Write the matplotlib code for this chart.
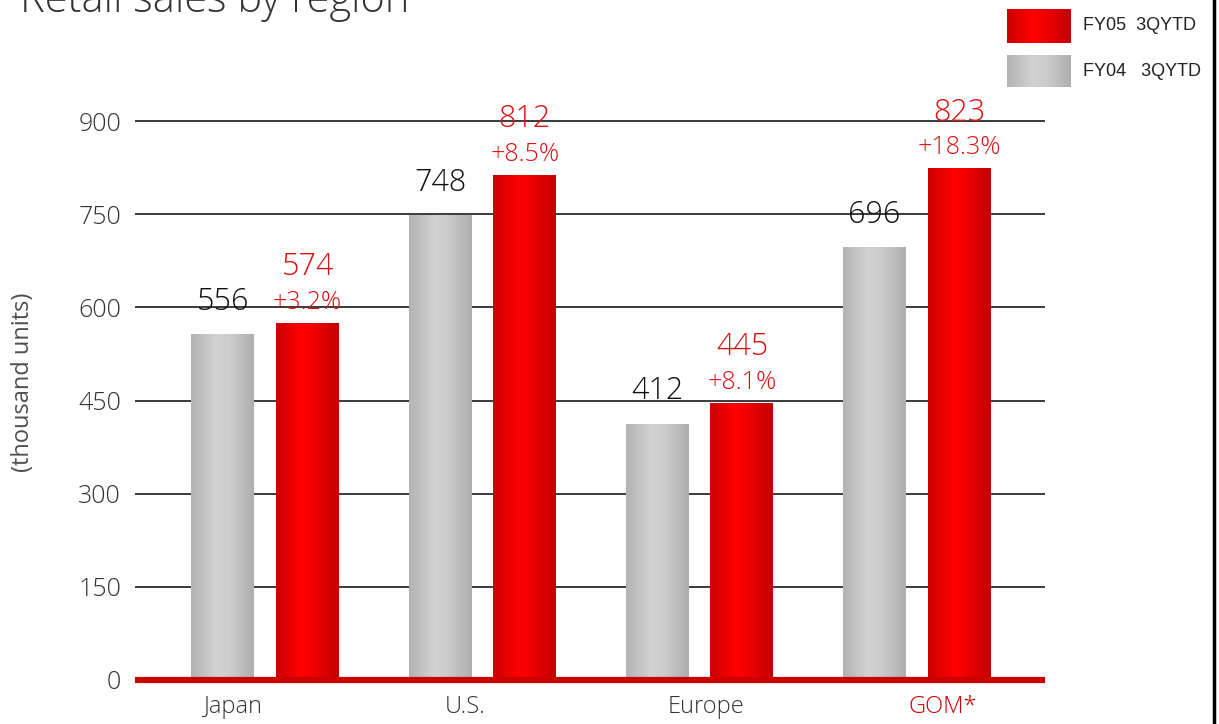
import numpy as np
import matplotlib
matplotlib.use("Agg")
import matplotlib.pyplot as plt
from matplotlib.colors import LinearSegmentedColormap
from matplotlib.lines import Line2D

regions = ["Japan", "U.S.", "Europe", "GOM*"]
fy04 = [556, 748, 412, 696]
fy05 = [574, 812, 445, 823]
growth = ["+3.2%", "+8.5%", "+8.1%", "+18.3%"]
yticks = [0, 150, 300, 450, 600, 750, 900]
legend_labels = ["FY05  3QYTD", "FY04   3QYTD"]

plt.rcParams['font.family'] = ['Open Sans', 'DejaVu Sans']
plt.rcParams['font.weight'] = 'light'

GREY = LinearSegmentedColormap.from_list(
    "grey", [(0, "#b2b2b2"), (0.4, "#d2d2d2"), (0.6, "#cdcdcd"), (1, "#aeaeae")])
RED = LinearSegmentedColormap.from_list(
    "red", [(0, "#cc0000"), (0.4, "#ff0000"), (0.55, "#f60000"), (1, "#c40000")])
grad = np.linspace(0, 1, 256).reshape(1, -1)


def fill_gradient(ax, patch, cmap):
    x, y = patch.get_x(), patch.get_y()
    w, h = patch.get_width(), patch.get_height()
    ax.imshow(grad, cmap=cmap, extent=[x, x + w, y, y + h],
              aspect='auto', zorder=2, interpolation='bilinear')


fig = plt.figure(figsize=(12.19, 7.24), dpi=100)
ax = fig.add_axes([0.1107, 0.0522, 0.7465, 0.8064])

x = np.arange(len(regions))
w = 0.29
off = 0.195
bars04 = ax.bar(x - off, fy04, w, color='none', zorder=2)
bars05 = ax.bar(x + off, fy05, w, color='none', zorder=2)
for p in bars04:
    fill_gradient(ax, p, GREY)
for p in bars05:
    fill_gradient(ax, p, RED)

ax.set_xlim(-0.60, 3.59)
ax.set_ylim(-10, 930)

# grid lines
for t in yticks[1:]:
    ax.axhline(t, color='#3a3a3a', linewidth=1.4, zorder=1)
ax.axhline(0, color='#cc0000', linewidth=4.5, zorder=3)

ax.set_yticks(yticks)
ax.set_yticklabels([str(t) for t in yticks], fontsize=18, color='#333333')
ax.tick_params(axis='y', length=0, pad=10)

label_shift = [-0.15, -0.08, 0.03, 0.12]
ax.set_xticks(x + np.array(label_shift))
ax.set_xticklabels(regions, fontsize=17, color='#333333')
ax.get_xticklabels()[-1].set_color('#cc0000')
ax.tick_params(axis='x', length=0, pad=6)

for s in ax.spines.values():
    s.set_visible(False)

ax.set_ylabel("(thousand units)", fontsize=17, color='#505050')
ax.yaxis.set_label_coords(-0.11, 0.52)

# value labels
for p, v in zip(bars04, fy04):
    ax.annotate(str(v), (p.get_x() + p.get_width() / 2, v), xytext=(0, 12),
                textcoords='offset points', ha='center', va='bottom',
                fontsize=22, color='#111111', zorder=4)
for p, v, g in zip(bars05, fy05, growth):
    cx = p.get_x() + p.get_width() / 2
    ax.annotate(g, (cx, v), xytext=(0, 6), textcoords='offset points',
                ha='center', va='bottom', fontsize=18, color='#dd1111', zorder=4)
    ax.annotate(str(v), (cx, v), xytext=(0, 29), textcoords='offset points',
                ha='center', va='bottom', fontsize=22, color='#dd1111', zorder=4)

# title (partly cut off at the top, as in the original)
fig.text(20 / 1219, 1 - 12 / 724, "Retail sales by region", fontsize=30,
         color='#333333', va='baseline', ha='left')

# legend
W, H = 1219, 724
for (y0, y1), cmap, lab in zip([(9, 43), (55, 87)], [RED, GREY], legend_labels):
    lax = fig.add_axes([1007 / W, 1 - y1 / H, 64 / W, (y1 - y0) / H])
    lax.imshow(grad, cmap=cmap, aspect='auto', interpolation='bilinear')
    lax.axis('off')
    fig.text(1083 / W, 1 - (y0 + y1) / 2 / H, lab, fontsize=13,
             family='Liberation Sans', weight='normal', color='#222222',
             va='center', ha='left')

# right edge line
fig.add_artist(Line2D([1214 / W, 1214 / W], [0, 1], transform=fig.transFigure,
                      color='black', linewidth=2.5))

fig.savefig("out.png", dpi=100)
